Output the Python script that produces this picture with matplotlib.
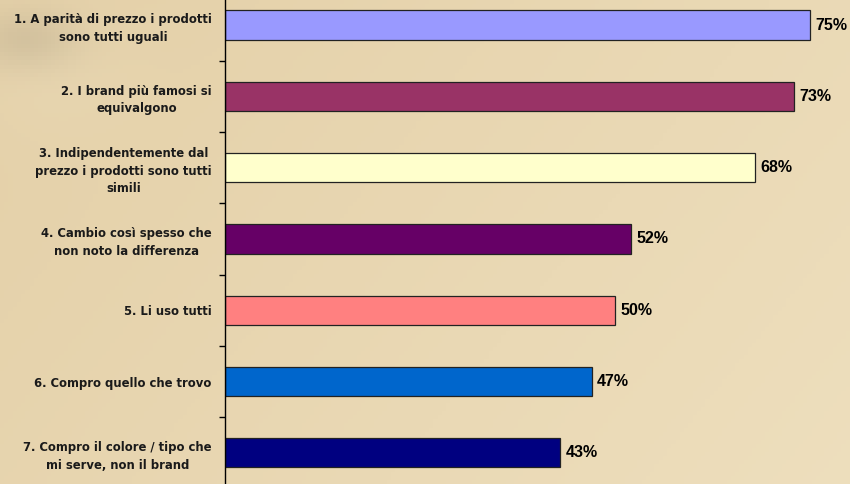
import numpy as np
import matplotlib.pyplot as plt
from matplotlib.ticker import FixedLocator

labels = [
    '1. A parità di prezzo i prodotti\nsono tutti uguali',
    '2. I brand più famosi si\nequivalgono',
    '3. Indipendentemente dal\nprezzo i prodotti sono tutti\nsimili',
    '4. Cambio così spesso che\nnon noto la differenza',
    '5. Li uso tutti',
    '6. Compro quello che trovo',
    '7. Compro il colore / tipo che\nmi serve, non il brand',
]
values = [75, 73, 68, 52, 50, 47, 43]
colors = ['#9999FF', '#993366', '#FFFFCC', '#660066', '#FF8080', '#0066CC', '#000080']

W, H = 850, 484
fig = plt.figure(figsize=(W / 100, H / 100), dpi=100)

# beige paper-like background
bg = fig.add_axes([0, 0, 1, 1])
gx = np.linspace(0, 1, 200)
gy = np.linspace(0, 1, 120)
X, Y = np.meshgrid(gx, gy)
shade = 0.55 * X + 0.25 * Y + 0.2 * np.exp(-((X - 0.05) ** 2 / 0.01 + (Y - 0.15) ** 2 / 0.02))
c_dark = np.array([228, 208, 168]) / 255
c_light = np.array([240, 226, 194]) / 255
t = np.clip(shade, 0, 1)[..., None]
img = c_dark * (1 - t) + c_light * t
dark_spot = np.exp(-((X - 0.03) ** 2 / 0.004 + (Y - 0.08) ** 2 / 0.004))[..., None]
img = img * (1 - 0.08 * dark_spot)
bg.imshow(img, aspect='auto', extent=[0, 1, 1, 0])
bg.axis('off')

ax = fig.add_axes([225 / W, 0, 1 - 225 / W, 1])
ax.patch.set_alpha(0)

y = np.arange(len(values))
ax.barh(y, values, height=0.41, color=colors, edgecolor='#222222', linewidth=0.9)

ax.set_xlim(0, (W - 225) / 7.8)
ax.set_ylim((H - 25) / 71.3, -25 / 71.3)

for yi, v in zip(y, values):
    ax.text(v + 0.7, yi, f'{v}%', va='center', ha='left',
            fontsize=11.5, fontweight='bold', family='Liberation Sans')

ax.set_yticks(y)
ax.set_yticklabels(labels, fontsize=8.4, fontweight='bold', family='DejaVu Sans',
                   multialignment='center', linespacing=1.45, color='#1a1a1a')
ax.tick_params(axis='y', which='major', length=0, pad=9.5)
ax.yaxis.set_minor_locator(FixedLocator(np.arange(-0.5, len(values), 1)))
ax.tick_params(axis='y', which='minor', length=4, width=1, color='black')

ax.set_xticks([])
for s in ['top', 'right', 'bottom']:
    ax.spines[s].set_visible(False)
ax.spines['left'].set_linewidth(1)

fig.savefig('out.png', dpi=100)
